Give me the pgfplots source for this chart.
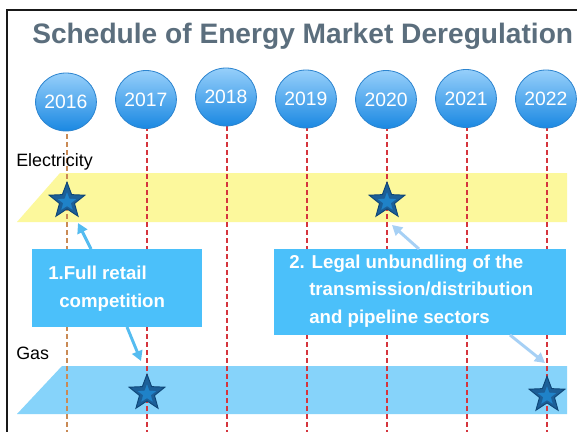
\documentclass[border=0pt]{standalone}
\usepackage{fontspec}
\setmainfont{Liberation Sans}
\usepackage{pgfplots}
\pgfplotsset{compat=1.18}
\usepackage{pgfplotstable}
\usetikzlibrary{arrows.meta,shapes.geometric,shadings}

\definecolor{titlecol}{HTML}{5B6E7D}
\definecolor{bandyellow}{HTML}{FCF89C}
\definecolor{bandblue}{HTML}{86D3FA}
\definecolor{boxblue}{HTML}{4BC0FA}
\definecolor{arrowA}{HTML}{55BCF0}
\definecolor{arrowB}{HTML}{A6D0F5}
\definecolor{dashred}{HTML}{D5353D}
\definecolor{dashbrown}{HTML}{C98A55}
\definecolor{circtop}{HTML}{96CFFA}
\definecolor{circbot}{HTML}{1A88E2}
\definecolor{circedge}{HTML}{2C84CF}
\definecolor{starout}{HTML}{1C5F98}
\definecolor{staredge}{HTML}{0E4677}
\definecolor{starin}{HTML}{1F82C8}

\pgfdeclareplotmark{fstar}{%
  \pgfpathmoveto{\pgfpointpolar{90}{\pgfplotmarksize}}%
  \pgfpathlineto{\pgfpointpolar{126}{0.42\pgfplotmarksize}}%
  \pgfpathlineto{\pgfpointpolar{162}{\pgfplotmarksize}}%
  \pgfpathlineto{\pgfpointpolar{198}{0.42\pgfplotmarksize}}%
  \pgfpathlineto{\pgfpointpolar{234}{\pgfplotmarksize}}%
  \pgfpathlineto{\pgfpointpolar{270}{0.42\pgfplotmarksize}}%
  \pgfpathlineto{\pgfpointpolar{306}{\pgfplotmarksize}}%
  \pgfpathlineto{\pgfpointpolar{342}{0.42\pgfplotmarksize}}%
  \pgfpathlineto{\pgfpointpolar{18}{\pgfplotmarksize}}%
  \pgfpathlineto{\pgfpointpolar{54}{0.42\pgfplotmarksize}}%
  \pgfpathclose
  \pgfusepathqfillstroke
}

% year circles: year, vertical centre (px from top)
\pgfplotstableread{
year cy
2016 102
2017 99.5
2018 97
2019 99
2020 99.5
2021 98.5
2022 99
}\years
% Electricity milestones
\pgfplotstableread{
year y
2016 201
2020 201
}\elec
% Gas milestones
\pgfplotstableread{
year y
2017 393
2022 395
}\gas

\begin{document}
\begin{tikzpicture}
\begin{axis}[
  width=432.75pt, height=324pt, scale only axis,
  xmin=0, xmax=577, ymin=0, ymax=432, y dir=reverse,
  hide axis, clip=false,
]
\coordinate (SW) at (axis cs:0,432);
\coordinate (NE) at (axis cs:577,0);
% background
\addplot[fill=white, draw=none] coordinates {(0,0) (577,0) (577,432) (0,432)} -- cycle;
% frame
\addplot[draw=black!90, line width=1.5pt] coordinates {(577,10) (7,10) (7,432)};
% bands
\addplot[fill=bandyellow, draw=none] coordinates {(60,173) (567,173) (567,222) (17,222)} -- cycle;
\addplot[fill=bandblue, draw=none] coordinates {(62,366) (567,366) (567,414) (17,414)} -- cycle;
% dashed year lines
\addplot[dashbrown, line width=0.8pt, dash pattern=on 3.6pt off 2.4pt] coordinates {(67,110) (67,432)};
\addplot[dashred, line width=0.8pt, dash pattern=on 3.6pt off 2.4pt] coordinates {(147,110) (147,432)};
\addplot[dashred, line width=0.8pt, dash pattern=on 3.6pt off 2.4pt] coordinates {(227,110) (227,432)};
\addplot[dashred, line width=0.8pt, dash pattern=on 3.6pt off 2.4pt] coordinates {(307,110) (307,432)};
\addplot[dashred, line width=0.8pt, dash pattern=on 3.6pt off 2.4pt] coordinates {(387,110) (387,432)};
\addplot[dashred, line width=0.8pt, dash pattern=on 3.6pt off 2.4pt] coordinates {(467,110) (467,432)};
\addplot[dashred, line width=0.8pt, dash pattern=on 3.6pt off 2.4pt] coordinates {(547,110) (547,432)};
% year circles
\addplot[draw=none, mark=none, point meta=explicit symbolic,
  nodes near coords, nodes near coords align=center,
  every node near coord/.style={ellipse, minimum width=44.25pt, minimum height=43.5pt,
    inner sep=0pt, top color=circtop, bottom color=circbot, draw=circedge, line width=0.6pt,
    text=white, font=\fontsize{14.5}{16}\selectfont, anchor=center}]
  table[x expr={66+80*(\thisrow{year}-2016)}, y=cy, meta=year] {\years};
% stars
\addplot[only marks, mark=fstar, mark size=14.1pt, mark options={fill=starout, draw=staredge, line width=0.7pt}]
  table[x expr={67+80*(\thisrow{year}-2016)}, y=y] {\elec};
\addplot[only marks, mark=fstar, mark size=7pt, mark options={fill=starin, draw=starin, line width=0.1pt}]
  table[x expr={67+80*(\thisrow{year}-2016)}, y expr={\thisrow{y}+1}] {\elec};
\addplot[only marks, mark=fstar, mark size=14.1pt, mark options={fill=starout, draw=staredge, line width=0.7pt}]
  table[x expr={67+80*(\thisrow{year}-2016)}, y=y] {\gas};
\addplot[only marks, mark=fstar, mark size=7pt, mark options={fill=starin, draw=starin, line width=0.1pt}]
  table[x expr={67+80*(\thisrow{year}-2016)}, y expr={\thisrow{y}+1}] {\gas};
% callout boxes
\addplot[fill=boxblue, draw=none] coordinates {(32,249) (202,249) (202,327) (32,327)} -- cycle;
\addplot[fill=boxblue, draw=none] coordinates {(274,249) (566,249) (566,335) (274,335)} -- cycle;
% arrows
\addplot[arrowA, line width=2.2pt, -{Triangle[length=7.5pt,width=8pt]}] coordinates {(91,249) (78,223)};
\addplot[arrowA, line width=2.2pt, -{Triangle[length=7.5pt,width=8pt]}] coordinates {(127,327) (141,361)};
\addplot[arrowB, line width=2.2pt, -{Triangle[length=7.5pt,width=8pt]}] coordinates {(419,249) (392,225)};
\addplot[arrowB, line width=2.2pt, -{Triangle[length=7.5pt,width=8pt]}] coordinates {(510,335) (545,363)};
% texts
\node[anchor=base west, inner sep=0pt, text=titlecol, font=\fontsize{21.1}{24}\selectfont\bfseries]
  at (axis cs:32,43) {Schedule of Energy Market Deregulation};
\node[anchor=base west, inner sep=0pt, font=\fontsize{13.4}{16}\selectfont] at (axis cs:16,166) {Electricity};
\node[anchor=base west, inner sep=0pt, font=\fontsize{13.4}{16}\selectfont] at (axis cs:16,359) {Gas};
\node[anchor=base west, inner sep=0pt, text=white, font=\fontsize{14}{16}\selectfont\bfseries] at (axis cs:48,279) {1.Full retail};
\node[anchor=base west, inner sep=0pt, text=white, font=\fontsize{14}{16}\selectfont\bfseries] at (axis cs:59,307) {competition};
\node[anchor=base west, inner sep=0pt, text=white, font=\fontsize{14}{16}\selectfont\bfseries] at (axis cs:289,268) {2. Legal unbundling of the};
\node[anchor=base west, inner sep=0pt, text=white, font=\fontsize{14}{16}\selectfont\bfseries] at (axis cs:309,295) {transmission/distribution};
\node[anchor=base west, inner sep=0pt, text=white, font=\fontsize{14}{16}\selectfont\bfseries] at (axis cs:309,323) {and pipeline sectors};
\end{axis}
\pgfresetboundingbox
\path (SW) rectangle (NE);
\end{tikzpicture}
\end{document}
